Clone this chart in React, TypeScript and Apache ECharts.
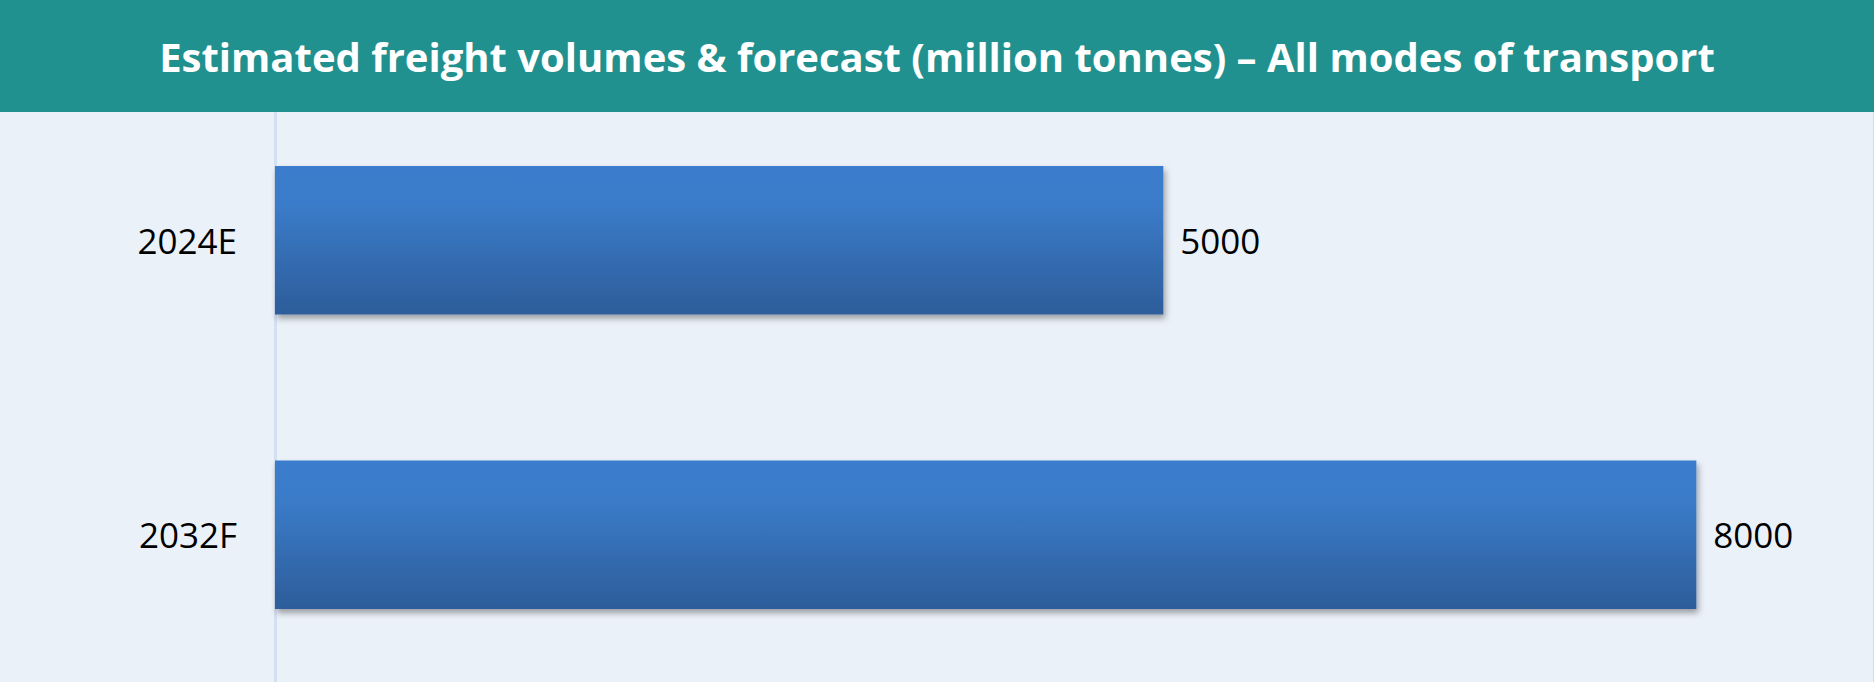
import React, { useEffect, useRef } from "react";
import * as echarts from "echarts";

const categories: string[] = ["2024E", "2032F"];
const values: number[] = [5000, 8000];
const titleText = "Estimated freight volumes & forecast (million tonnes) \u2013 All modes of transport";

export default function App() {
  const ref = useRef<HTMLDivElement>(null);
  useEffect(() => {
    if (!ref.current) return;
    const chart = echarts.init(ref.current, undefined, { renderer: "svg" });
    chart.setOption({
      animation: false,
      backgroundColor: "#EBF1F9",
      title: {
        text: titleText,
        left: "center",
        top: 31,
        z: 10,
        textStyle: {
          color: "#FFFFFF",
          fontFamily: "Open Sans",
          fontWeight: "bold",
          fontSize: 40,
        },
      },
      graphic: [
        {
          type: "rect",
          z: 5,
          shape: { x: 0, y: 0, width: 1874, height: 112 },
          style: { fill: "#21918F" },
        },
        {
          type: "line",
          z: 5,
          shape: { x1: 1873.5, y1: 112, x2: 1873.5, y2: 682 },
          style: { stroke: "#D3DCE8", lineWidth: 1 },
        },
      ],
      grid: { left: 275, right: 0, top: 93, height: 592, containLabel: false },
      xAxis: {
        type: "value",
        min: 0,
        max: 9000,
        show: false,
        splitLine: { show: false },
      },
      yAxis: {
        type: "category",
        data: categories,
        inverse: true,
        axisLine: { show: true, lineStyle: { color: "#D3E0F1", width: 3 } },
        axisTick: { show: false },
        axisLabel: {
          margin: 38,
          color: "#000000",
          fontFamily: "Open Sans",
          fontSize: 35,
        },
      },
      series: [
        {
          type: "bar",
          data: values,
          barCategoryGap: "49.6%",
          itemStyle: {
            color: new echarts.graphic.LinearGradient(0, 0, 0, 1, [
              { offset: 0, color: "#3A7CCC" },
              { offset: 0.25, color: "#3B7CCA" },
              { offset: 1, color: "#2D5D9A" },
            ]),
            shadowColor: "rgba(0,0,0,0.35)",
            shadowBlur: 6,
            shadowOffsetX: 2,
            shadowOffsetY: 4,
          },
          label: {
            show: true,
            position: "right",
            distance: 17,
            color: "#000000",
            fontFamily: "Open Sans",
            fontSize: 35,
          },
        },
      ],
    });
    return () => chart.dispose();
  }, []);
  return (
    <div
      ref={ref}
      style={{ position: "fixed", left: 0, top: 0, width: 1874, height: 682 }}
    />
  );
}
